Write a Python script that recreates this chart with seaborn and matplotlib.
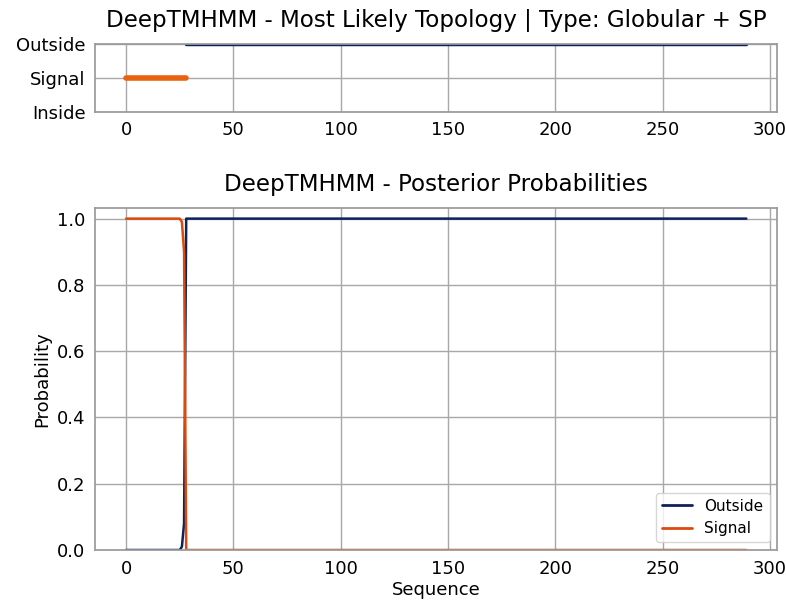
import numpy as np
import pandas as pd
import seaborn as sns
import matplotlib
matplotlib.use("Agg")
import matplotlib.pyplot as plt

# ---- data ----
topology_labels = ["Inside", "Signal", "Outside"]
topology_levels = [0, 1, 2]
signal_span = [0, 28]       # residues predicted as signal peptide
outside_span = [28, 289]    # residues predicted outside

seq_len = 290
signal_prob = [1.0] * 26 + [0.99, 0.9] + [0.0] * 262
outside_prob = [0.0] * 26 + [0.01, 0.08] + [1.0] * 262

xticks = [0, 50, 100, 150, 200, 250, 300]
yticks_prob = [0.0, 0.2, 0.4, 0.6, 0.8, 1.0]

NAVY = "#0d2259"
ORANGE = "#e8620f"
RED_ORANGE = "#dc4a0e"

sns.set_theme(style="whitegrid")
plt.rcParams["font.family"] = ["DejaVu Sans"]
plt.rcParams["axes.edgecolor"] = "#9a9a9a"
plt.rcParams["grid.color"] = "#a8a8a8"
plt.rcParams["text.color"] = "black"
plt.rcParams["axes.labelcolor"] = "black"
plt.rcParams["xtick.color"] = "black"
plt.rcParams["ytick.color"] = "black"

fig = plt.figure(figsize=(7.86, 6.04), dpi=100)
ax1 = fig.add_axes([0.121, 0.815, 0.868, 0.112])
ax2 = fig.add_axes([0.121, 0.0894, 0.868, 0.5662])

# top: topology
top_df = pd.DataFrame({
    "x": [signal_span[0], signal_span[1], outside_span[0], outside_span[1]],
    "y": [1, 1, 2, 2],
    "label": ["Signal", "Signal", "Outside", "Outside"],
})
sns.lineplot(data=top_df[top_df.label == "Signal"], x="x", y="y", ax=ax1,
             color=ORANGE, linewidth=4, solid_capstyle="round", legend=False)
sns.lineplot(data=top_df[top_df.label == "Outside"], x="x", y="y", ax=ax1,
             color=NAVY, linewidth=2.5, legend=False)
ax1.set_ylim(0, 2)
ax1.set_xlim(-14.45, 303.45)
ax1.set_yticks(topology_levels)
ax1.set_yticklabels(topology_labels)
ax1.set_xticks(xticks)
ax1.set_xlabel("")
ax1.set_ylabel("")
ax1.set_title("DeepTMHMM - Most Likely Topology | Type: Globular + SP", fontsize=16.6, pad=12)
ax1.tick_params(labelsize=13, pad=1)

# bottom: posterior probabilities
seq = np.arange(seq_len)
prob_df = pd.DataFrame({
    "Sequence": np.concatenate([seq, seq]),
    "Probability": outside_prob + signal_prob,
    "State": ["Outside"] * seq_len + ["Signal"] * seq_len,
})
sns.lineplot(data=prob_df, x="Sequence", y="Probability", hue="State",
             palette={"Outside": NAVY, "Signal": RED_ORANGE}, linewidth=1.8, ax=ax2)
ax2.set_ylim(0, 1.032)
ax2.set_xlim(-14.45, 303.45)
ax2.set_xticks(xticks)
ax2.set_yticks(yticks_prob)
ax2.set_yticklabels([f"{v:.1f}" for v in yticks_prob])
ax2.set_title("DeepTMHMM - Posterior Probabilities", fontsize=16.6, pad=12)
ax2.set_xlabel("Sequence", fontsize=13, labelpad=2)
ax2.set_ylabel("Probability", fontsize=13, labelpad=4)
ax2.tick_params(labelsize=13, pad=1)
leg = ax2.legend(loc="lower right", fontsize=11, title=None, frameon=True)
for line in leg.get_lines():
    line.set_linewidth(2)

for ax in (ax1, ax2):
    for s in ax.spines.values():
        s.set_color("#9a9a9a")

fig.savefig("out.png", dpi=100)
